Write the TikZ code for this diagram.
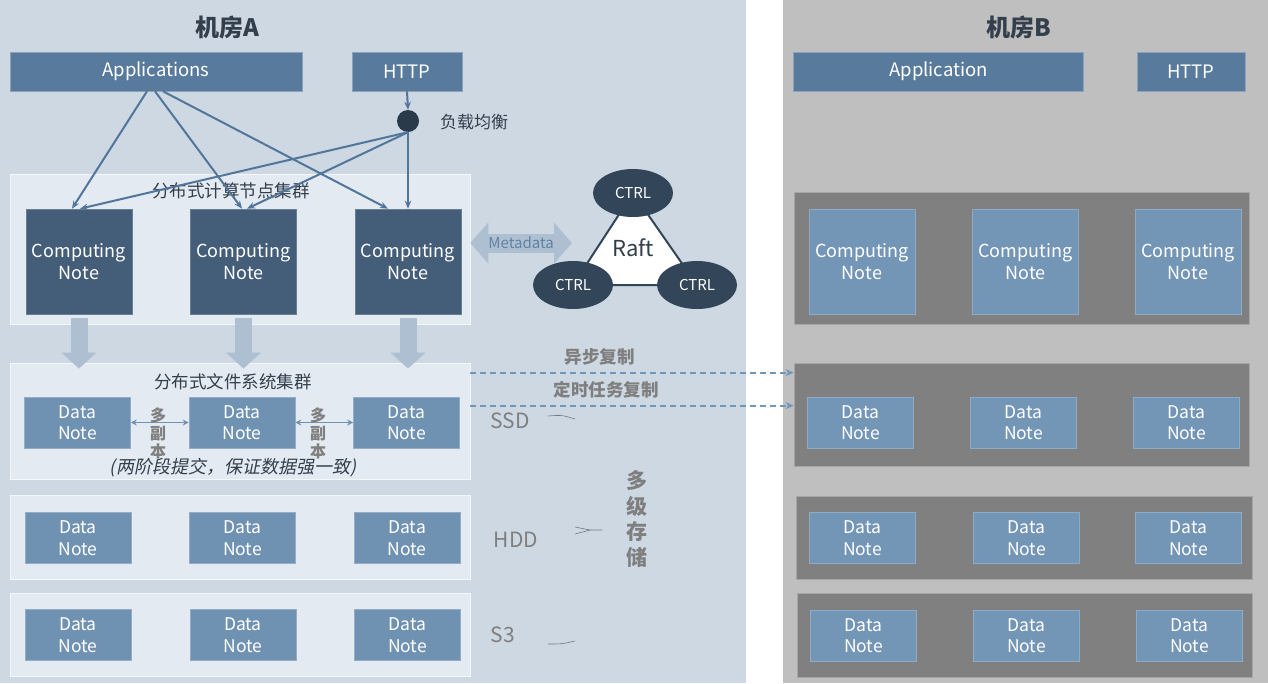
\documentclass[tikz,border=0pt]{standalone}
\usepackage{fontspec}
\setmainfont{Noto Sans CJK SC}
\newfontfamily\slantcjk[FakeSlant=0.2]{Noto Sans CJK SC}
\usetikzlibrary{arrows.meta}
\usetikzlibrary{shapes.geometric}

\definecolor{roomA}{HTML}{CDD8E3}
\definecolor{roomB}{HTML}{BFBFBF}
\definecolor{clusterA}{HTML}{E3EAF2}
\definecolor{clusterB}{HTML}{808080}
\definecolor{appblue}{HTML}{587A9C}
\definecolor{cndark}{HTML}{445D78}
\definecolor{dnblue}{HTML}{7092B2}
\definecolor{nodeB}{HTML}{7395B6}
\definecolor{lbdark}{HTML}{2B3A4A}
\definecolor{ctrldark}{HTML}{334659}
\definecolor{linkblue}{HTML}{52759A}
\definecolor{fatblue}{HTML}{ADBFD1}
\definecolor{dashblue}{HTML}{7096BB}
\definecolor{labelgray}{HTML}{7F7F7F}
\definecolor{darktext}{HTML}{333F4B}

\begin{document}
\begin{tikzpicture}[x=1pt,y=-1pt]

\tikzset{
    topbox/.style={fill=appblue,text=white,draw=appblue!70!white,line width=0.6pt,
        minimum height=39pt,inner sep=0pt,font=\fontsize{18.5}{22}\selectfont},
    clusterA/.style={fill=clusterA,draw=white!60!clusterA,line width=0.8pt,inner sep=0pt},
    clusterB/.style={fill=clusterB,draw=gray!70!white,line width=0.8pt,inner sep=0pt},
    cnode/.style={fill=cndark,draw=cndark!80!white,line width=0.6pt,text=white,align=center,
        minimum width=106pt,minimum height=105pt,inner sep=0pt,font=\fontsize{18}{21.5}\selectfont},
    cnodeB/.style={cnode,fill=nodeB,draw=nodeB!80!white},
    dnode/.style={fill=dnblue,draw=dnblue!75!white,line width=0.6pt,text=white,align=center,
        minimum width=106pt,minimum height=51pt,inner sep=0pt,font=\fontsize{17.5}{21.5}\selectfont},
    dnodeB/.style={dnode,fill=nodeB,draw=nodeB!80!white},
    ctrl/.style={ellipse,fill=ctrldark,text=white,minimum width=80pt,minimum height=48pt,
        inner sep=0pt,font=\fontsize{15}{17}\selectfont},
    link/.style={-{Stealth[length=8pt,width=6.5pt]},draw=linkblue,line width=2pt},
    fatarrow/.style={-{Triangle[width=34pt,length=16pt]},draw=fatblue,line width=17pt},
    copies/.style={{Stealth[length=6pt,width=6pt]}-{Stealth[length=6pt,width=6pt]},draw=dnblue,line width=1.6pt},
    repl/.style={-{Stealth[length=8pt,width=7pt]},draw=dashblue,line width=2pt,dash pattern=on 6pt off 4pt},
    tier/.style={text=labelgray,font=\fontsize{21}{24}\selectfont},
    brace/.style={draw=darktext!70!white,line width=0.6pt}
}
% variables
\def\titlesize{\fontsize{24}{28}\selectfont\bfseries}
\def\clustersize{\fontsize{17.5}{20}\selectfont}
\def\grayboldsize{\fontsize{17.5}{20}\selectfont\bfseries}

\useasboundingbox (0,0) rectangle (1268,683);

% ----------- backgrounds ----------- %
\fill[roomA] (0,0) rectangle (746,683);
\fill[white] (746,0) rectangle (783,683);
\fill[roomB] (783,0) rectangle (1268,683);

% ------------ ROOM A ---------%
\node[font=\titlesize,text=darktext] (titleA) at (227,28) {机房A};
\node[topbox,minimum width=292pt] (appsA) at (156,71.5) {Applications};
\node[topbox,minimum width=110pt] (httpA) at (407,71.5) {HTTP};
\node[circle,fill=lbdark,minimum size=22pt,inner sep=0pt] (lb) at (408,121) {};
\node[text=darktext,font=\fontsize{17}{20}\selectfont] (lblabel) at (474,122) {负载均衡};

% computing cluster
\node[clusterA,minimum width=460pt,minimum height=150pt] (compA) at (240,249) {};
\node[text=darktext,font=\clustersize] (compAtitle) at (231,191) {分布式计算节点集群};
\node[cnode] (ca1) at (79,261.5) {Computing\\Note};
\node[cnode] (ca2) at (243.5,261.5) {Computing\\Note};
\node[cnode] (ca3) at (408,261.5) {Computing\\Note};

% file system cluster
\node[clusterA,minimum width=460pt,minimum height=116pt] (fsA) at (240,421) {};
\node[text=darktext,font=\clustersize] (fsAtitle) at (233,382) {分布式文件系统集群};
\node[dnode] (ssd1) at (77.5,422.5) {Data\\Note};
\node[dnode] (ssd2) at (242,422.5) {Data\\Note};
\node[dnode] (ssd3) at (406.5,422.5) {Data\\Note};
\node[text=darktext,font=\slantcjk\fontsize{18}{21}\selectfont] (commit) at (233,468) {(两阶段提交，保证数据强一致)};
\node[text=labelgray,align=center,font=\fontsize{16}{18}\selectfont\bfseries] (copy1) at (158,433) {多\\副\\本};
\node[text=labelgray,align=center,font=\fontsize{16}{18}\selectfont\bfseries] (copy2) at (318,433) {多\\副\\本};

% HDD and S3 clusters
\node[clusterA,minimum width=460pt,minimum height=84pt] (hddA) at (240,537) {};
\node[dnode] (hdd1) at (78,538) {Data\\Note};
\node[dnode] (hdd2) at (242.5,538) {Data\\Note};
\node[dnode] (hdd3) at (407,538) {Data\\Note};
\node[clusterA,minimum width=460pt,minimum height=83pt] (s3A) at (240,634.5) {};
\node[dnode] (s31) at (78,635) {Data\\Note};
\node[dnode] (s32) at (243,635) {Data\\Note};
\node[dnode] (s33) at (407.5,635) {Data\\Note};

% storage tiers
\node[tier] (ssd) at (510,421) {SSD};
\node[tier] (hdd) at (516,540) {HDD};
\node[tier] (s3) at (503,635) {S3};
\node[text=labelgray,align=center,font=\fontsize{21}{25.5}\selectfont\bfseries] (multi) at (637,519) {多\\级\\存\\储};
\draw[brace] (548,416) .. controls (562,415) .. (575,419);
\draw[brace] (575,527) -- (590,530) -- (602,530);
\draw[brace] (575,534) -- (590,530);
\draw[brace] (548,644) .. controls (562,644) .. (575,641);

% Raft controllers
\coordinate (t1) at (633,193);
\coordinate (t2) at (573,285);
\coordinate (t3) at (697,285);
\filldraw[fill=white,draw=ctrldark,line width=2pt] (t1) -- (t2) -- (t3) -- cycle;
\node[text=darktext,font=\fontsize{22}{26}\selectfont] (raft) at (633,248) {Raft};
\node[ctrl] (ctrl1) at (t1) {CTRL};
\node[ctrl] (ctrl2) at (t2) {CTRL};
\node[ctrl] (ctrl3) at (t3) {CTRL};
\coordinate (metaR) at (572,243);
\draw[{Triangle[width=40pt,length=18pt]}-{Triangle[width=40pt,length=18pt]},draw=fatblue,line width=19pt]
    ([xshift=9pt,yshift=18.5pt]ca3.east) -- (metaR)
    node[midway,text=linkblue!90!white,font=\fontsize{15}{17}\selectfont] {Metadata};

% edges from applications and load balancer
\draw[link] ([xshift=-9pt]appsA.south) -- ([xshift=-7pt]ca1.north);
\draw[link] ([xshift=-1pt]appsA.south) -- ([xshift=-1.5pt]ca2.north);
\draw[link] ([xshift=7pt]appsA.south) -- ([xshift=-20pt]ca3.north);
\draw[link] (httpA.south) -- (lb.north);
\draw[link] (lb.south) -- ([xshift=1pt]ca1.north);
\draw[link] (lb.south) -- ([xshift=3.5pt]ca2.north);
\draw[link] (lb.south) -- (ca3.north);

% fat arrows down to file system
\draw[fatarrow] ([yshift=-4pt]ca1.south) -- ([yshift=-6pt]ca1.south |- fsA.north);
\draw[fatarrow] ([yshift=-4pt]ca2.south) -- ([yshift=-6pt]ca2.south |- fsA.north);
\draw[fatarrow] ([yshift=-4pt]ca3.south) -- ([yshift=-6pt]ca3.south |- fsA.north);

% replicas
\draw[copies] (ssd1.east) -- (ssd2.west);
\draw[copies] (ssd2.east) -- (ssd3.west);

% ------------ ROOM B ---------%
\node[font=\titlesize,text=darktext] (titleB) at (1019,28) {机房B};
\node[topbox,minimum width=290pt] (appB) at (938.5,71.5) {Application};
\node[topbox,minimum width=108pt] (httpB) at (1191,71.5) {HTTP};

\node[clusterB,minimum width=455pt,minimum height=132pt] (compB) at (1021.5,258) {};
\node[cnodeB] (cb1) at (862,261.5) {Computing\\Note};
\node[cnodeB] (cb2) at (1025.5,261.5) {Computing\\Note};
\node[cnodeB] (cb3) at (1188,261.5) {Computing\\Note};

\node[clusterB,minimum width=455pt,minimum height=103pt] (fsB) at (1021.5,414.5) {};
\node[dnodeB] (ssdB1) at (860.5,422.5) {Data\\Note};
\node[dnodeB] (ssdB2) at (1023.5,422.5) {Data\\Note};
\node[dnodeB] (ssdB3) at (1186.5,422.5) {Data\\Note};

\node[clusterB,minimum width=456pt,minimum height=83pt] (hddB) at (1024,537.5) {};
\node[dnodeB] (hddB1) at (862.5,538) {Data\\Note};
\node[dnodeB] (hddB2) at (1026.5,538) {Data\\Note};
\node[dnodeB] (hddB3) at (1188.5,538) {Data\\Note};

\node[clusterB,minimum width=455pt,minimum height=84pt] (s3B) at (1024.5,635) {};
\node[dnodeB] (s3B1) at (863.5,635.5) {Data\\Note};
\node[dnodeB] (s3B2) at (1026.5,635.5) {Data\\Note};
\node[dnodeB] (s3B3) at (1189.5,635.5) {Data\\Note};

% cross room replication
\draw[repl] ([yshift=-10pt]fsA.north east) -- ([yshift=-10pt]fsA.north east -| fsB.west)
    node[pos=0.4,above=3pt,text=labelgray,font=\grayboldsize] {异步复制};
\draw[repl] ([yshift=-43pt]fsA.north east) -- ([yshift=-43pt]fsA.north east -| fsB.west)
    node[pos=0.42,above=3pt,text=labelgray,font=\grayboldsize] {定时任务复制};

\end{tikzpicture}
\end{document}
